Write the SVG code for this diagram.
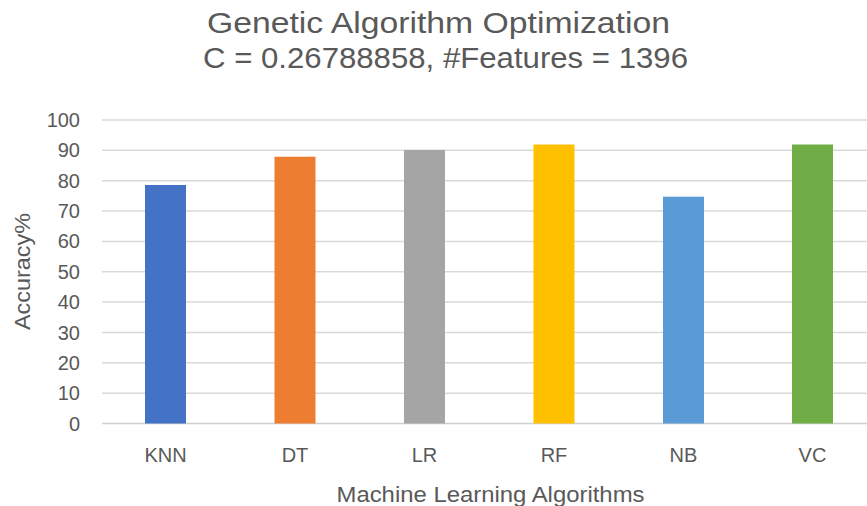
<svg xmlns="http://www.w3.org/2000/svg" width="867" height="506" viewBox="0 0 867 506">
  <style>
    .txt { font-family: "Liberation Sans", Arial, sans-serif; fill: #595959; }
    .title { font-size: 29px; }
    .ytick { font-size: 20px; text-anchor: end; }
    .xtick { font-size: 20px; text-anchor: middle; }
    .axis-title { font-size: 22px; }
    .grid { stroke: #D9D9D9; stroke-width: 1.5; }
    .baseline { stroke: #CFCFCF; stroke-width: 1.5; }
  </style>

  <rect width="867" height="506" fill="#FFFFFF"/>

  <!-- Chart title -->
  <g id="title">
    <text class="txt title" x="207" y="33" textLength="463" lengthAdjust="spacingAndGlyphs">Genetic Algorithm Optimization</text>
    <text class="txt title" x="203" y="68" textLength="485" lengthAdjust="spacingAndGlyphs">C = 0.26788858, #Features = 1396</text>
  </g>

  <!-- Horizontal gridlines, 10% steps -->
  <g id="gridlines">
    <line class="grid" x1="102" y1="120" x2="867" y2="120"/>
    <line class="grid" x1="102" y1="150.3" x2="867" y2="150.3"/>
    <line class="grid" x1="102" y1="180.7" x2="867" y2="180.7"/>
    <line class="grid" x1="102" y1="211" x2="867" y2="211"/>
    <line class="grid" x1="102" y1="241.4" x2="867" y2="241.4"/>
    <line class="grid" x1="102" y1="271.8" x2="867" y2="271.8"/>
    <line class="grid" x1="102" y1="302.1" x2="867" y2="302.1"/>
    <line class="grid" x1="102" y1="332.5" x2="867" y2="332.5"/>
    <line class="grid" x1="102" y1="362.8" x2="867" y2="362.8"/>
    <line class="grid" x1="102" y1="393.2" x2="867" y2="393.2"/>
    <line class="baseline" x1="102" y1="423.5" x2="867" y2="423.5"/>
  </g>

  <!-- Y axis tick labels -->
  <g id="y-axis">
    <text class="txt ytick" x="80" y="127">100</text>
    <text class="txt ytick" x="80" y="157.3">90</text>
    <text class="txt ytick" x="80" y="187.7">80</text>
    <text class="txt ytick" x="80" y="218">70</text>
    <text class="txt ytick" x="80" y="248.4">60</text>
    <text class="txt ytick" x="80" y="278.8">50</text>
    <text class="txt ytick" x="80" y="309.1">40</text>
    <text class="txt ytick" x="80" y="339.5">30</text>
    <text class="txt ytick" x="80" y="369.8">20</text>
    <text class="txt ytick" x="80" y="400.2">10</text>
    <text class="txt ytick" x="80" y="430.5">0</text>
    <text class="txt axis-title" x="30" y="271.5" text-anchor="middle" textLength="117" lengthAdjust="spacingAndGlyphs" transform="rotate(-90 30 271.5)">Accuracy%</text>
  </g>

  <!-- Bars -->
  <g id="bar-knn"><rect x="145" y="185" width="41" height="238.5" fill="#4472C4"/></g>
  <g id="bar-dt"><rect x="274.5" y="156.7" width="41" height="266.8" fill="#ED7D31"/></g>
  <g id="bar-lr"><rect x="404" y="150" width="41" height="273.5" fill="#A5A5A5"/></g>
  <g id="bar-rf"><rect x="533.5" y="144.5" width="41" height="279" fill="#FFC000"/></g>
  <g id="bar-nb"><rect x="663" y="196.7" width="41" height="226.8" fill="#5B9BD5"/></g>
  <g id="bar-vc"><rect x="792" y="144.5" width="41" height="279" fill="#70AD47"/></g>

  <!-- X axis category labels -->
  <g id="x-axis">
    <text class="txt xtick" x="165.5" y="461.5">KNN</text>
    <text class="txt xtick" x="295" y="461.5">DT</text>
    <text class="txt xtick" x="424.5" y="461.5">LR</text>
    <text class="txt xtick" x="554" y="461.5">RF</text>
    <text class="txt xtick" x="683.5" y="461.5">NB</text>
    <text class="txt xtick" x="812.5" y="461.5">VC</text>
    <text class="txt axis-title" x="336.5" y="501.5" textLength="308" lengthAdjust="spacingAndGlyphs">Machine Learning Algorithms</text>
  </g>
</svg>
